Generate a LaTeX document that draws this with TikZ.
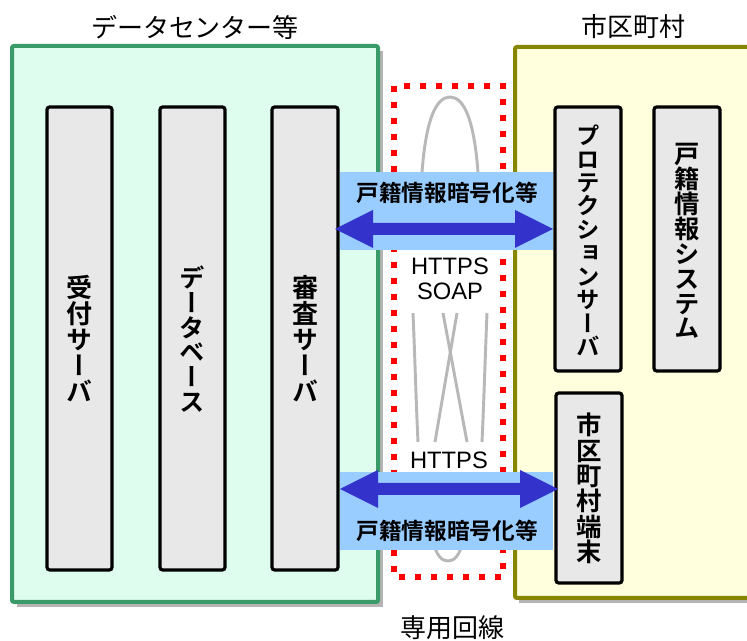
\documentclass[tikz,border=0pt]{standalone}
\usepackage{fontspec}
\setmainfont{Liberation Sans}
\newfontfamily\jpfont{Noto Sans CJK JP}
\newfontfamily\jpvfont[RawFeature=+vert]{Noto Sans CJK JP Bold}
\newfontfamily\jpbfont{Noto Sans CJK JP Bold}
\definecolor{mint}{HTML}{DEFDEF}
\definecolor{mintline}{HTML}{3A9A6A}
\definecolor{cream}{HTML}{FFFFDE}
\definecolor{oliveline}{HTML}{868600}
\definecolor{boxgray}{HTML}{E8E8E8}
\definecolor{shadowgray}{HTML}{B4B4B4}
\definecolor{bandblue}{HTML}{99CCFF}
\definecolor{arrowblue}{HTML}{3333CC}
\definecolor{cablegray}{HTML}{B8B8B8}
\tikzset{
  container/.style={line width=3pt, rounded corners=1.5pt},
  srvbox/.style={draw=black, fill=boxgray, line width=2.4pt, rounded corners=2pt},
  vtext/.style 2 args={font=\jpvfont\fontsize{#1}{#2}\selectfont, align=center, inner sep=0pt},
  title/.style={font=\jpfont\fontsize{19.5}{22}\selectfont, inner sep=0pt},
  bandtext/.style={font=\jpbfont\fontsize{17}{18}\selectfont, inner sep=0pt},
  proto/.style={font=\fontsize{17.8}{22}\selectfont, inner sep=0pt, align=center},
  cable/.style={draw=cablegray, line width=2.2pt},
  band/.style={fill=bandblue, draw=none},
  dblarrow/.style={fill=arrowblue, draw=none},
}
\begin{document}
\begin{tikzpicture}[x=0.75pt,y=-0.75pt]
\useasboundingbox (0,0) rectangle (747,641);
\fill[white] (0,0) rectangle (747,641);

% containers with shadows
\fill[shadowgray] (17,51) rectangle (383,607);
\draw[container, draw=mintline, fill=mint] (12,46) rectangle (378,602);
\fill[shadowgray] (519,52) rectangle (770,603);
\draw[container, draw=oliveline, fill=cream] (515,47) rectangle (770,598);

% titles
\node[title] (tdc) at (195,27) {データセンター等};
\node[title] (tcity) at (633,27) {市区町村};
\node[title] (tline) at (452,628) {専用回線};

% left server boxes
\draw[srvbox] (47,107) rectangle (112,570);
\draw[srvbox] (160,107) rectangle (225,570);
\draw[srvbox] (272,107) rectangle (338,570);
\node[vtext={19.5pt}{19.5pt}] (uketsuke) at (79.5,338.5) {受\\付\\サ\\ー\\バ};
\node[vtext={19pt}{18.5pt}] (db) at (192.5,339) {デ\\ー\\タ\\ベ\\ー\\ス};
\node[vtext={19.5pt}{19.5pt}] (shinsa) at (305,338.5) {審\\査\\サ\\ー\\バ};

% right boxes
\draw[srvbox] (555,107) rectangle (621,371);
\draw[srvbox] (654,107) rectangle (720,371);
\draw[srvbox] (556,393) rectangle (622,583);
\node[vtext={17.6pt}{17.6pt}] (protect) at (588,240.5) {プ\\ロ\\テ\\ク\\シ\\ョ\\ン\\サ\\ー\\バ};
\node[vtext={19pt}{18.7pt}] (koseki) at (687,241) {戸\\籍\\情\\報\\シ\\ス\\テ\\ム};
\node[vtext={19pt}{19pt}] (terminal) at (589,488.5) {市\\区\\町\\村\\端\\末};

% cable (gray)
\draw[cable] (421,190) .. controls (424,120) and (436,97) .. (450,97)
              .. controls (464,97) and (476,120) .. (479,190);
\draw[cable] (413,313) .. controls (415,360) and (416,400) .. (418,442);
\draw[cable] (487,313) .. controls (485,360) and (484,400) .. (482,442);
\draw[cable] (443,313) -- (467,442);
\draw[cable] (457,313) -- (435,442);
\draw[cable] (433,540) .. controls (436,556) and (442,561) .. (448,561)
              .. controls (454,561) and (460,556) .. (463,540);

% red dotted private line
\draw[red, line width=4.5pt, dash pattern=on 4.5pt off 7.5pt] (394,86) rectangle (503,577);

% top band
\fill[band] (340,172) rectangle (553,250);
\fill[dblarrow] (335,229) -- (373,210) -- (373,223) -- (515,223) -- (515,210) -- (553,229)
  -- (515,248) -- (515,235) -- (373,235) -- (373,248) -- cycle;
\node[bandtext] (enc1) at (447,193) {戸籍情報暗号化等};

% bottom band
\fill[band] (340,472) rectangle (553,550);
\fill[dblarrow] (340,489) -- (378,470) -- (378,483) -- (520,483) -- (520,470) -- (558,489)
  -- (520,508) -- (520,495) -- (378,495) -- (378,508) -- cycle;
\node[bandtext] (enc2) at (447,531) {戸籍情報暗号化等};

% protocol labels
\node[proto] (p1) at (450,278.5) {HTTPS\\[-3.5pt]SOAP};
\node[proto] (p2) at (449,460) {HTTPS};
\end{tikzpicture}
\end{document}
